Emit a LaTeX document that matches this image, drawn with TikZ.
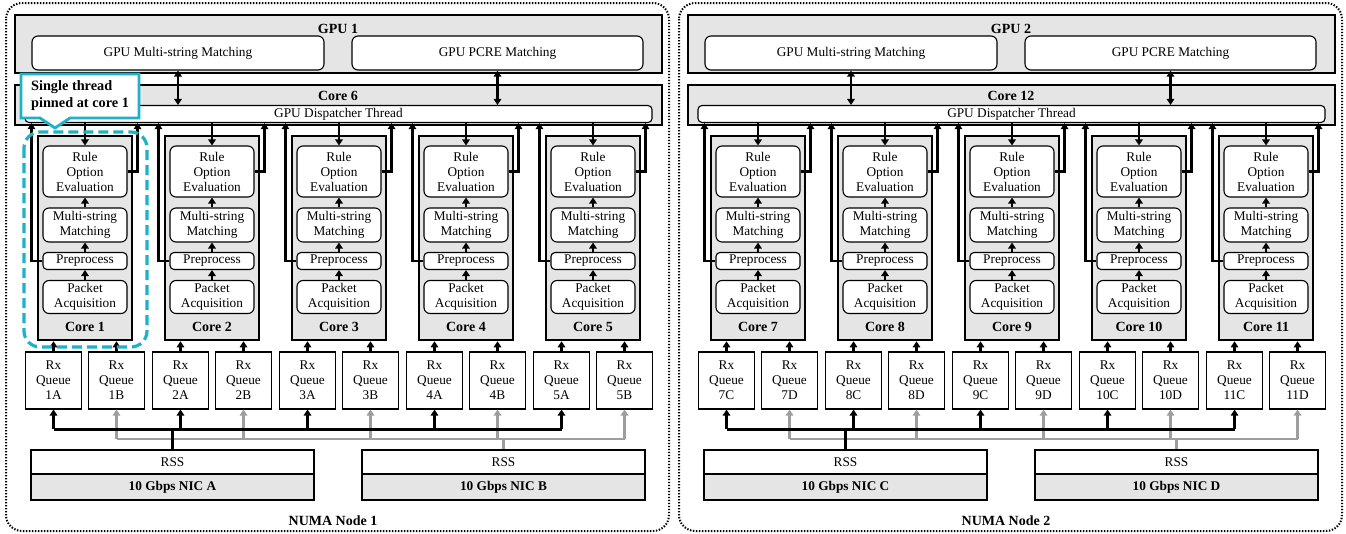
\documentclass[tikz,border=0pt]{standalone}
\usepackage{fontspec}
\setmainfont{Liberation Serif}
\usetikzlibrary{arrows.meta}
\definecolor{pin}{RGB}{28,178,199}
\newcommand\txtfont{\fontsize{13.3}{15}\selectfont}
\newcommand\lblfont{\fontsize{14}{16}\selectfont\bfseries}
\newcommand\notefont{\fontsize{14.3}{17}\selectfont\bfseries}
\tikzset{%
    gbox/.style={draw=black,fill=gray!20,line width=2.6pt,inner sep=0pt},
    wbox/.style={draw=black,fill=white,line width=1.1pt,rounded corners=6pt,inner sep=0pt,align=center},
    qbox/.style={draw=black,fill=white,line width=1.1pt,inner sep=0pt,align=center},
    lbl/.style={font=\lblfont,inner sep=0pt},
    sz/.style 2 args={minimum width=#1pt,minimum height=#2pt},
    arr/.style={line width=2.4pt,-{Triangle[length=6pt,width=7.5pt]}},
    darr/.style={line width=2.4pt,{Triangle[length=6pt,width=7.5pt]}-{Triangle[length=6pt,width=7.5pt]}},
    garr/.style={arr,draw=black!38},
    bus/.style={line width=3pt},
    gbus/.style={line width=2.4pt,draw=black!38},
    numa/.style={line width=2pt,dash pattern=on 1.4pt off 1.6pt,rounded corners=16pt},
    pinbox/.style={draw=pin,fill=white,line width=2.8pt},
    pinnote/.style={font=\notefont,align=left,inner sep=0pt},
    pinline/.style={draw=pin,line width=3.2pt,dash pattern=on 10pt off 5pt,rounded corners=16pt}
}
\begin{document}
\begin{tikzpicture}[x=1pt,y=-1pt,font=\txtfont]
    \useasboundingbox (0,0) rectangle (1346,533);
    \foreach \g/\dx/\cc/\qa/\qb in {1/0/6/A/B,2/673/12/C/D}{
    \begin{scope}[xshift=\dx pt]
        % numa node frame
        \draw[numa] (6,3) rectangle (669,531);
        \node[lbl] (numa\g) at (333,521) {NUMA Node \g};
        % gpu
        \node[gbox,sz={647}{58}] (gpu\g) at (338.5,44) {};
        \node[lbl] (gpul\g) at (338,29) {GPU \g};
        \node[wbox,sz={292}{34}] (msm\g) at (178,53) {GPU Multi-string Matching};
        \node[wbox,sz={291}{34}] (pcre\g) at (497.5,53) {GPU PCRE Matching};
        % dispatcher core
        \node[gbox,sz={647}{40}] (cpu\g) at (338.5,105) {};
        \node[lbl] (cpul\g) at (338,96) {Core \cc};
        \node[wbox,sz={627}{17},rounded corners=4pt] (dsp\g) at (338.5,114) {GPU Dispatcher Thread};
        \draw[darr] (msm\g.south) -- (msm\g.south |- dsp\g.north);
        \draw[darr] (pcre\g.south) -- (pcre\g.south |- dsp\g.north);
        % nics
        \node[qbox,sz={283}{24}] (rssa\g) at (172.5,462) {RSS};
        \node[gbox,sz={283}{26},font=\txtfont\bfseries] (nica\g) at (172.5,487) {10 Gbps NIC \qa};
        \node[qbox,sz={283}{24}] (rssb\g) at (503.5,462) {RSS};
        \node[gbox,sz={283}{26},font=\txtfont\bfseries] (nicb\g) at (503.5,487) {10 Gbps NIC \qb};
        \coordinate (busa\g) at (0,429);
        \coordinate (busb\g) at (0,439);
        % worker cores
        \foreach \c in {1,...,5}{
            \pgfmathtruncatemacro\k{\c+(\g-1)*6}
            \pgfmathsetmacro\xc{85+127*(\c-1)}
            \node[gbox,sz={94}{204}] (core\k) at (\xc,238) {};
            \node[wbox,sz={84}{51}] (rule\k) at (\xc,171.5) {Rule\\Option\\Evaluation};
            \node[wbox,sz={84}{34}] (ms\k) at (\xc,225) {Multi-string\\Matching};
            \node[wbox,sz={84}{17},rounded corners=4pt] (pre\k) at (\xc,261) {Preprocess};
            \node[wbox,sz={84}{33}] (pa\k) at (\xc,297) {Packet\\Acquisition};
            \node[lbl] (corel\k) at (\xc,327) {Core \k};
            \draw[arr] (rule\k.north |- dsp\g.south) -- (rule\k.north);
            \draw[arr] (ms\k) -- (rule\k);
            \draw[arr] (pre\k) -- (ms\k);
            \draw[arr] (pa\k) -- (pre\k);
            \draw[arr] (pre\k.west) -- ++(-11,0) coordinate (lp\k) -- (lp\k |- dsp\g.south);
            \draw[arr] (rule\k.east) -- ++(10,0) coordinate (rp\k) -- (rp\k |- dsp\g.south);
            % rx queues
            \node[qbox,sz={56}{57}] (qa\k) at (\xc-31.5,380.5) {Rx\\Queue\\\k\qa};
            \node[qbox,sz={56}{57}] (qb\k) at (\xc+31.5,380.5) {Rx\\Queue\\\k\qb};
            \draw[arr] (qa\k.north) -- (qa\k.north |- core\k.south);
            \draw[arr] (qb\k.north) -- (qb\k.north |- core\k.south);
            \draw[garr] (qb\k.south |- busb\g) -- (qb\k.south);
            \draw[arr] (qa\k.south |- busa\g) -- (qa\k.south);
        }
        \pgfmathtruncatemacro\kf{1+(\g-1)*6}
        \pgfmathtruncatemacro\kl{5+(\g-1)*6}
        \draw[gbus] (qb\kf.south |- busb\g) -- (qb\kl.south |- busb\g);
        \draw[gbus] (rssb\g.north) -- (rssb\g.north |- busb\g);
        \draw[bus] (qa\kf.south |- busa\g) -- (qa\kl.south |- busa\g);
        \draw[bus] (rssa\g.north) -- (rssa\g.north |- busa\g);
    \end{scope}}
    % pinned thread note
    \filldraw[pinbox] (21,74) -- (139,74) -- (139,118) -- (70,118) -- (55,128) -- (40,118) -- (21,118) -- cycle;
    \node[pinnote] (note) at (80,96) {Single thread\\pinned at core 1};
    \draw[pinline] (24,132) rectangle (147,347);
\end{tikzpicture}
\end{document}
